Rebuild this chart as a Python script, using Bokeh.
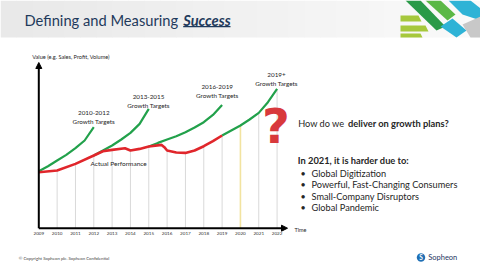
import numpy as np
from bokeh.plotting import figure
from bokeh.models import Label, Arrow, NormalHead, BoxAnnotation, PolyAnnotation
from bokeh.embed import file_html
from bokeh.resources import INLINE

# ---------------- data ----------------
actual_years = [2009, 2010, 2011, 2012, 2012.5, 2013, 2013.7, 2014, 2014.5, 2015,
                2015.7, 2015.85, 2016, 2016.5, 2017, 2017.5, 2018, 2018.5, 2019]
actual_vals = [56, 57.7, 64.3, 72.7, 77, 78.3, 80, 77.7, 79.3, 81.7,
               83.3, 81, 77.7, 75.7, 75.3, 77.7, 82, 87, 92.7]

t1_years = [2009, 2009.5, 2010, 2010.5, 2011, 2011.5, 2012]
t1_vals = [57, 62, 67.7, 73.3, 80, 87.7, 101]

t2_years = [2012, 2012.5, 2013, 2013.5, 2014, 2014.5, 2015]
t2_vals = [72.7, 77.7, 82.7, 88.7, 95.3, 104.3, 119.3]

t3_years = [2015, 2015.5, 2016, 2016.5, 2017, 2017.5, 2018, 2018.5, 2019]
t3_vals = [81.7, 85.3, 88.7, 92, 96, 100.7, 106, 113.3, 123.3]

t4_years = [2019, 2019.5, 2020, 2020.5, 2021, 2021.5, 2022]
t4_vals = [92.7, 97.7, 102.7, 108.7, 115.3, 126, 139.3]

tick_years = list(range(2009, 2023))
tick_labels = [str(y) for y in tick_years]
grid_years = list(range(2010, 2023))

target_labels = ["2010-2012", "2013-2015", "2016-2019", "2019+"]
bullets = ["Global Digitization", "Powerful, Fast-Changing Consumers",
           "Small-Company Disruptors", "Global Pandemic"]

# ---------------- layout ----------------
W, H = 480, 270
PXY = 18.33          # pixels per year
X0 = 38.3            # page x of 2009
Y0 = 227.7           # page y of value 0
xs = 2009 - X0 / PXY
xe = xs + W / PXY
ys = -(H - Y0)
ye = ys + H

p = figure(width=W, height=H, x_range=(xs, xe), y_range=(ys, ye),
           x_axis_type=None, y_axis_type=None, min_border=0,
           toolbar_location=None, output_backend="svg")
p.grid.visible = False
p.outline_line_color = None
p.background_fill_color = "white"
p.border_fill_color = "white"

FONT = "Lato"


def sx(x):
    return x


def sy(y):
    return H - y


def lab(x, y, text, size, style="normal", color="#262626", align="left",
        baseline="middle", font=FONT):
    p.add_layout(Label(x=sx(x), y=sy(y), x_units="screen", y_units="screen", text=text,
                       text_font=font, text_font_size=f"{size}px", text_font_style=style,
                       text_color=color, text_align=align, text_baseline=baseline))


def box(x0, x1, y0, y1, color):
    p.add_layout(BoxAnnotation(left=sx(x0), right=sx(x1), top=sy(y0), bottom=sy(y1),
                               left_units="screen", right_units="screen",
                               top_units="screen", bottom_units="screen",
                               fill_color=color, fill_alpha=1, line_color=None, level="underlay"))


def poly(pts, color):
    p.add_layout(PolyAnnotation(xs=[sx(a) for a, b in pts], ys=[sy(b) for a, b in pts],
                                xs_units="screen", ys_units="screen",
                                fill_color=color, fill_alpha=1, line_color=None, level="underlay"))


# header gradient
n = 30
for i in range(n):
    c = int(233 + (250 - 233) * i / (n - 1))
    box(i * W / n, (i + 1) * W / n + 0.5, 0, 37, f"#{c:02x}{c:02x}{c:02x}")

# logo stripes (top right)
poly([(400, 15), (418, 15), (421, 21), (400, 21)], "#a6c83c")
poly([(400, 25), (425, 25), (428, 31), (400, 31)], "#a6c83c")
poly([(400, 33), (420, 33), (422, 37), (400, 37)], "#a6c83c")
poly([(405, 0), (420, 0), (445, 26), (436, 30)], "#2a9a48")
poly([(425, 0), (440, 0), (455, 14), (447, 20)], "#5bb846")
poly([(448, 0), (470, 0), (480, 8), (480, 20), (462, 14)], "#2fb3d6")
poly([(440, 26), (452, 18), (466, 30), (456, 37)], "#2fb3d6")
poly([(462, 24), (480, 16), (480, 37), (470, 37)], "#c8c8c8")

# title
TITLE_C = "#1f3a5c"
lab(24, 19, "Defining and Measuring", 14.7, color=TITLE_C)
lab(182.7, 19, "Success", 14.7, style="bold italic", color=TITLE_C)
box(182.7, 230, 25.6, 26.7, TITLE_C)

# gridlines (drop from curve to axis)
path_years = actual_years + t4_years[1:]
path_vals = actual_vals + t4_vals[1:]
grid_tops = np.interp(grid_years, path_years, path_vals)
grid_colors = ["#f2e3a0" if y == 2020 else "#d9d9d9" for y in grid_years]
p.segment(x0=grid_years, y0=[0] * len(grid_years), x1=grid_years, y1=grid_tops,
          line_color=grid_colors, line_width=[1.6 if y == 2020 else 1 for y in grid_years])

# target curves
GREEN = "#22a14b"
RED = "#e0262b"
for yy, vv in [(t1_years, t1_vals), (t2_years, t2_vals), (t3_years, t3_vals), (t4_years, t4_vals)]:
    p.line(yy, vv, line_color=GREEN, line_width=2.2)
p.line(actual_years, actual_vals, line_color=RED, line_width=2.6)

# axes with arrows
Y_AXIS_TOP = Y0 - 62
X_AXIS_END = 2009 + (287 - X0) / PXY
p.add_layout(Arrow(x_start=2009, y_start=0, x_end=2009, y_end=Y_AXIS_TOP,
                   line_color="black", line_width=2,
                   end=NormalHead(size=6, fill_color="black", line_color="black")))
p.add_layout(Arrow(x_start=2009, y_start=0, x_end=X_AXIS_END, y_end=0,
                   line_color="black", line_width=2,
                   end=NormalHead(size=6, fill_color="black", line_color="black")))

# tick labels
p.text(x=tick_years, y=[-5] * len(tick_years), text=tick_labels,
       text_font_size="4.6px", text_align="center", text_baseline="middle",
       text_color="#333333", text_font={"value": FONT})

lab(294, 229.3, "Time", 5.5)
lab(31.7, 55.7, "Value (e.g. Sales, Profit, Volume)", 5.6)

# growth target labels
tl_pos = [(93.3, 112), (148, 96), (216.7, 86.7), (276, 74)]
for (x, y), t in zip(tl_pos, target_labels):
    lab(x, y, t, 6.3, align="center")
    lab(x, y + 8.5, "Growth Targets", 6.3, align="center")
lab(90, 163.3, "Actual Performance", 6.5)

# question mark
lab(275.5, 125, "?", 48, style="bold", color="#d8393c", align="center",
    font="DejaVu Sans")

# right-hand text
lab(297.7, 123.3, "How do we", 9.2)
lab(347.5, 123.3, "deliver on growth plans?", 9.3, style="bold")
lab(297.3, 160, "In 2021, it is harder due to:", 9.3, style="bold")
for yb, t in zip([172.7, 184, 195.5, 207], bullets):
    lab(300, yb, "\u2022", 9)
    lab(311, yb, t, 9.2)

# footer
lab(18.3, 258.3, "\u00a9 Copyright Sopheon plc. Sopheon Confidential", 4.3, color="#444444")
ang = np.linspace(0, 2 * np.pi, 24, endpoint=False)
poly(list(zip(420.5 + 4.2 * np.cos(ang), 257 + 4.2 * np.sin(ang))), "#1f6fb5")
lab(420.5, 257.3, "S", 6.5, style="bold", color="white", align="center")
lab(427.7, 257, "Sopheon", 7.5, color="#1f3864")

open("out.html", "w").write(file_html(p, INLINE))
